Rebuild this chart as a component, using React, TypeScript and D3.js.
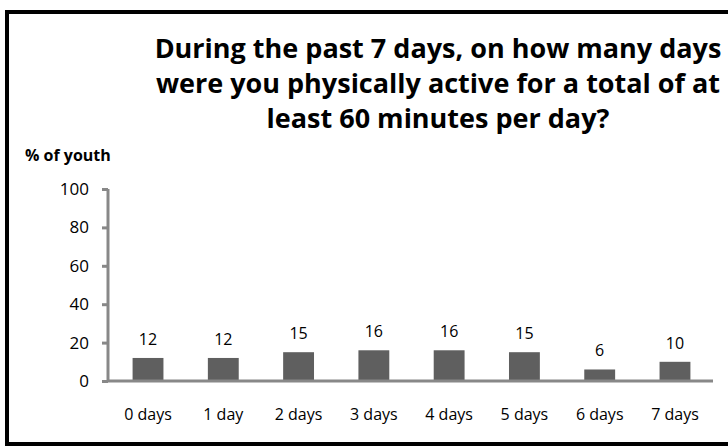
import React, { useRef, useEffect } from 'react';
import { select, scaleBand, scaleLinear, axisLeft } from 'd3';

const categories = ['0 days', '1 day', '2 days', '3 days', '4 days', '5 days', '6 days', '7 days'];
const values = [12, 12, 15, 16, 16, 15, 6, 10];
const yTicks = [0, 20, 40, 60, 80, 100];
const titleLines = [
  'During the past 7 days, on how many days',
  'were you physically active for a total of at',
  'least 60 minutes per day?',
];

const W = 728;
const H = 447;
const FONT = '"Open Sans", Lato, sans-serif';

function App() {
  const svgRef = useRef<SVGSVGElement>(null);

  useEffect(() => {
    const svg = select(svgRef.current);
    svg.selectAll('*').remove();

    // frame
    svg
      .append('rect')
      .attr('x', 7)
      .attr('y', 12)
      .attr('width', 760)
      .attr('height', 432)
      .attr('fill', '#fff')
      .attr('stroke', '#000')
      .attr('stroke-width', 4);

    // title
    svg
      .selectAll('.title')
      .data(titleLines)
      .join('text')
      .attr('class', 'title')
      .attr('x', 438)
      .attr('y', (d, i) => 58 + i * 35)
      .attr('text-anchor', 'middle')
      .attr('font-family', FONT)
      .attr('font-weight', 'bold')
      .attr('font-size', 27)
      .attr('fill', '#000')
      .text((d) => d);

    svg
      .append('text')
      .attr('x', 25)
      .attr('y', 161)
      .attr('font-family', FONT)
      .attr('font-weight', 'bold')
      .attr('font-size', 16)
      .text('% of youth');

    const xScale = scaleBand()
      .domain(categories)
      .range([110, 713])
      .paddingInner(0.59)
      .paddingOuter(0.3);

    const yScale = scaleLinear().domain([0, 100]).range([381, 189]);

    // y axis
    const yAxis = svg
      .append('g')
      .attr('transform', 'translate(108,0)')
      .call(axisLeft(yScale).tickValues(yTicks).tickSize(6).tickPadding(13));
    yAxis.select('.domain').attr('stroke', '#888').attr('stroke-width', 3).attr('d', `M0,${yScale(100)}V${yScale(0)}`);
    yAxis.selectAll('.tick line').attr('stroke', '#888').attr('stroke-width', 3);
    yAxis
      .selectAll('.tick text')
      .attr('font-family', FONT)
      .attr('font-size', 17)
      .attr('fill', '#000');

    // bars
    svg
      .selectAll('.bar')
      .data(values)
      .join('rect')
      .attr('class', 'bar')
      .attr('x', (d, i) => xScale(categories[i]))
      .attr('y', (d) => yScale(d))
      .attr('width', xScale.bandwidth())
      .attr('height', (d) => yScale(0) - yScale(d))
      .attr('fill', '#5f5f5f');

    // x axis line
    svg
      .append('line')
      .attr('x1', 108)
      .attr('x2', 713)
      .attr('y1', yScale(0))
      .attr('y2', yScale(0))
      .attr('stroke', '#888')
      .attr('stroke-width', 3);

    // value labels
    svg
      .selectAll('.label')
      .data(values)
      .join('text')
      .attr('class', 'label')
      .attr('x', (d, i) => xScale(categories[i]) + xScale.bandwidth() / 2)
      .attr('y', (d) => yScale(d) - 13)
      .attr('text-anchor', 'middle')
      .attr('font-family', FONT)
      .attr('font-size', 16)
      .text((d) => d);

    // category labels
    svg
      .selectAll('.cat')
      .data(categories)
      .join('text')
      .attr('class', 'cat')
      .attr('x', (d) => xScale(d) + xScale.bandwidth() / 2)
      .attr('y', 420)
      .attr('text-anchor', 'middle')
      .attr('font-family', FONT)
      .attr('font-size', 16)
      .text((d) => d);
  }, []);

  return (
    <svg
      ref={svgRef}
      width={W}
      height={H}
      style={{ position: 'absolute', left: 0, top: 0, background: '#fff' }}
    ></svg>
  );
}

export default App;
